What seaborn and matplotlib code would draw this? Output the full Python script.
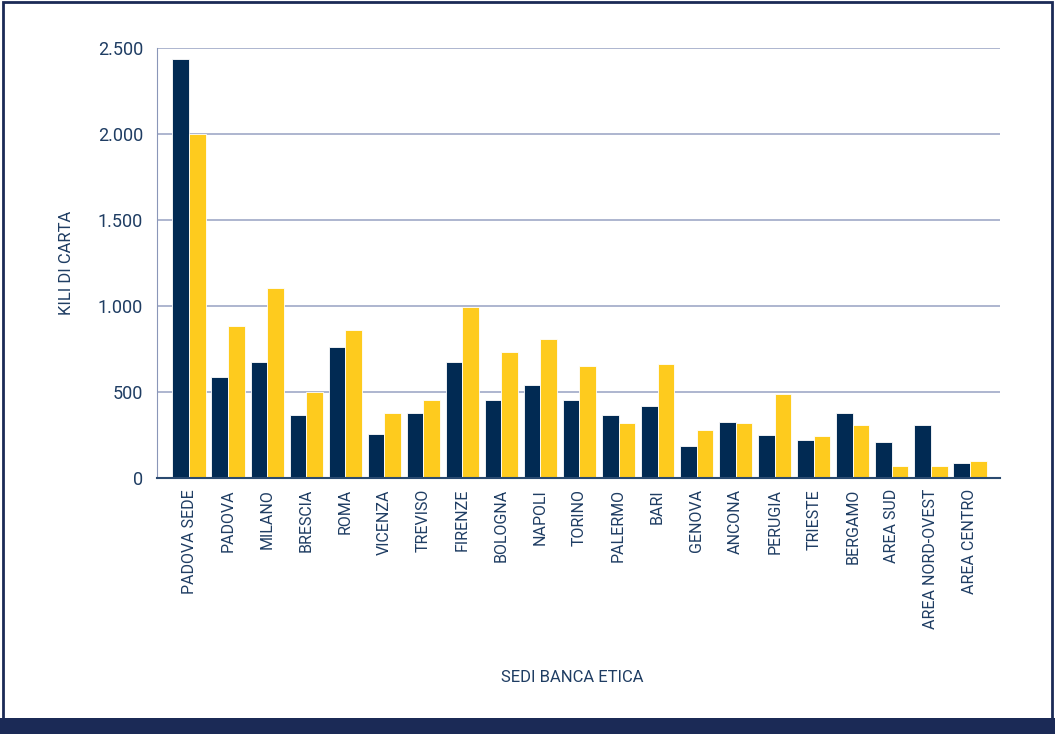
import matplotlib
matplotlib.use("Agg")
from matplotlib import pyplot as plt
from matplotlib.patches import Rectangle
from matplotlib.ticker import FuncFormatter
import seaborn as sns
import pandas as pd

sedi = ['PADOVA SEDE', 'PADOVA', 'MILANO', 'BRESCIA', 'ROMA', 'VICENZA', 'TREVISO',
        'FIRENZE', 'BOLOGNA', 'NAPOLI', 'TORINO', 'PALERMO', 'BARI', 'GENOVA',
        'ANCONA', 'PERUGIA', 'TRIESTE', 'BERGAMO', 'AREA SUD', 'AREA NORD-OVEST',
        'AREA CENTRO']
serie_blu = [2436, 587, 674, 366, 762, 256, 378, 674, 453, 541, 453, 366, 419, 186,
             326, 250, 221, 378, 209, 308, 87]
serie_gialla = [2000, 884, 1105, 500, 860, 378, 453, 994, 733, 808, 651, 320, 663, 279,
                320, 488, 244, 308, 70, 70, 99]

NAVY = '#012a53'
YELLOW = '#fecb1e'
TEXT = '#1f3d63'

sns.set_style('white')
plt.rcParams['font.family'] = ['Roboto', 'DejaVu Sans']

df = pd.DataFrame({
    'sede': sedi * 2,
    'kg': serie_blu + serie_gialla,
    'serie': ['blu'] * len(sedi) + ['gialla'] * len(sedi),
})

fig = plt.figure(figsize=(10.55, 7.34), dpi=100)
ax = fig.add_axes([0.1488, 0.3488, 0.7991, 0.5858])
sns.barplot(data=df, x='sede', y='kg', hue='serie', palette=[NAVY, YELLOW],
            saturation=1, width=0.85, edgecolor='white', linewidth=0.6,
            legend=False, ax=ax)

ax.set_ylim(0, 2500)
ax.set_xlim(-0.82, len(sedi) - 0.23)
ax.set_yticks([0, 500, 1000, 1500, 2000, 2500])
ax.yaxis.set_major_formatter(FuncFormatter(lambda v, p: f'{v:,.0f}'.replace(',', '.')))
ax.grid(axis='y', color='#97a2c2', linewidth=1.1)
ax.set_axisbelow(True)
for s in ['top', 'right']:
    ax.spines[s].set_visible(False)
ax.spines['left'].set_color('#8a96b8')
ax.spines['bottom'].set_color('#2a4a70')
ax.spines['bottom'].set_linewidth(1.5)
ax.tick_params(axis='both', length=0, colors=TEXT)
ax.tick_params(axis='y', labelsize=13, pad=10)
ax.tick_params(axis='x', labelsize=11.5, pad=8)
plt.setp(ax.get_xticklabels(), rotation=90)

ax.set_ylabel('KILI DI CARTA', fontsize=12, color=TEXT)
ax.yaxis.set_label_coords(-0.098, 0.5)
ax.set_xlabel('SEDI BANCA ETICA', fontsize=12, color=TEXT)
ax.xaxis.set_label_coords(0.492, -0.447)

# cornice e banda in fondo
fig.patches.append(Rectangle((0.003, 0.02), 0.994, 0.977, transform=fig.transFigure,
                             fill=False, edgecolor='#1b2a56', linewidth=2))
fig.patches.append(Rectangle((0, 0), 1, 0.022, transform=fig.transFigure,
                             facecolor='#1b2a56', edgecolor='none'))

fig.savefig('out.png', dpi=100)
